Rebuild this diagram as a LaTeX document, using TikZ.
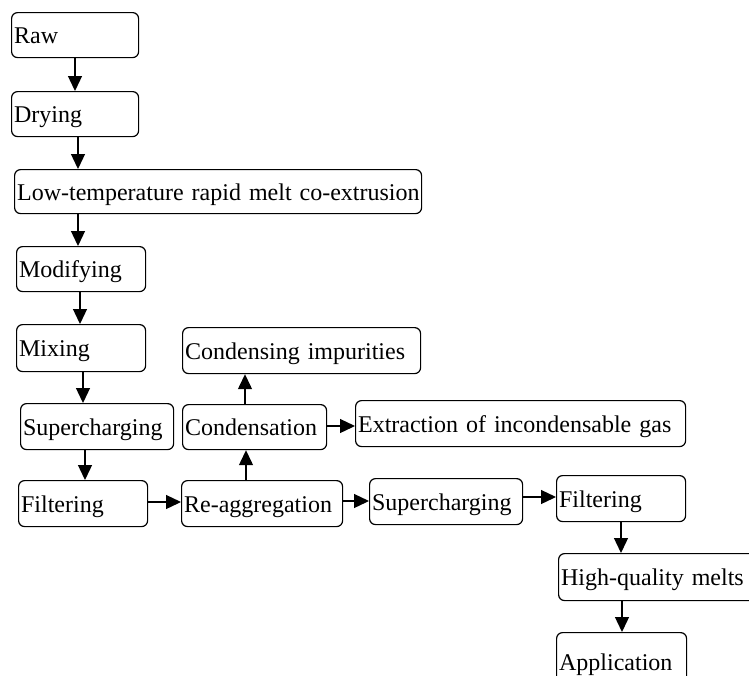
\documentclass[tikz,border=0pt]{standalone}
\usepackage{fontspec}
\setmainfont{Liberation Serif}
\usetikzlibrary{arrows.meta}
\tikzset{
  box/.style={draw, line width=1.2pt, rounded corners=6pt, anchor=north west,
    inner xsep=2.5pt, inner ysep=0pt, align=left, text height=17pt, text depth=0pt,
    font=\fontsize{24}{28}\selectfont},
  arr/.style={line width=1.3pt, -{Triangle[length=15pt,width=14pt]}}
}
\newcommand{\bx}[6]{\node[box, text width=#4-#2-5pt, minimum height=#5-#3] (#1) at (#2,-#3) {\mbox{#6}};}
\begin{document}
\begin{tikzpicture}[x=1pt,y=1pt]
\useasboundingbox (0,0) rectangle (749,-675);
\bx{raw}{11}{12}{138}{57}{Raw}
\bx{dry}{11}{91}{138}{136}{Drying}
\bx{low}{14}{169}{421}{213}{Low-temperature rapid melt co-extrusion}
\bx{mod}{16}{246}{145}{291}{Modifying}
\bx{mix}{16}{324}{145}{371}{Mixing}
\bx{supa}{20}{403}{173}{449}{Supercharging}
\bx{fila}{18}{480}{147}{526}{Filtering}
\bx{ci}{182}{327}{420}{373}{Condensing impurities}
\bx{cond}{182}{404}{326}{449}{Condensation}
\bx{ext}{355}{400}{685}{446}{Extraction of incondensable gas}
\bx{reag}{181}{480}{342}{526}{Re-aggregation}
\bx{supb}{369}{478}{522}{524}{Supercharging}
\bx{filb}{556}{475}{685}{521}{Filtering}
\bx{hq}{558}{553}{760}{600}{High-quality melts}
\bx{app}{556}{632}{686}{690}{Application}
% vertical arrows
\draw[arr] (raw.south -| 75,0) -- (dry.north -| 75,0);
\draw[arr] (dry.south -| 78,0) -- (low.north -| 78,0);
\draw[arr] (low.south -| 78,0) -- (mod.north -| 78,0);
\draw[arr] (mod.south -| 80,0) -- (mix.north -| 80,0);
\draw[arr] (mix.south -| 83,0) -- (supa.north -| 83,0);
\draw[arr] (supa.south -| 85,0) -- (fila.north -| 85,0);
\draw[arr] (reag.north -| 246,0) -- (cond.south -| 246,0);
\draw[arr] (cond.north -| 245,0) -- (ci.south -| 245,0);
\draw[arr] (filb.south -| 621,0) -- (hq.north -| 621,0);
\draw[arr] (hq.south -| 622,0) -- (app.north -| 622,0);
% horizontal arrows
\draw[arr] (fila.east |- 0,-502) -- (reag.west |- 0,-502);
\draw[arr] (cond.east |- 0,-426) -- (ext.west |- 0,-426);
\draw[arr] (reag.east |- 0,-501) -- (supb.west |- 0,-501);
\draw[arr] (supb.east |- 0,-497) -- (filb.west |- 0,-497);
\end{tikzpicture}
\end{document}
